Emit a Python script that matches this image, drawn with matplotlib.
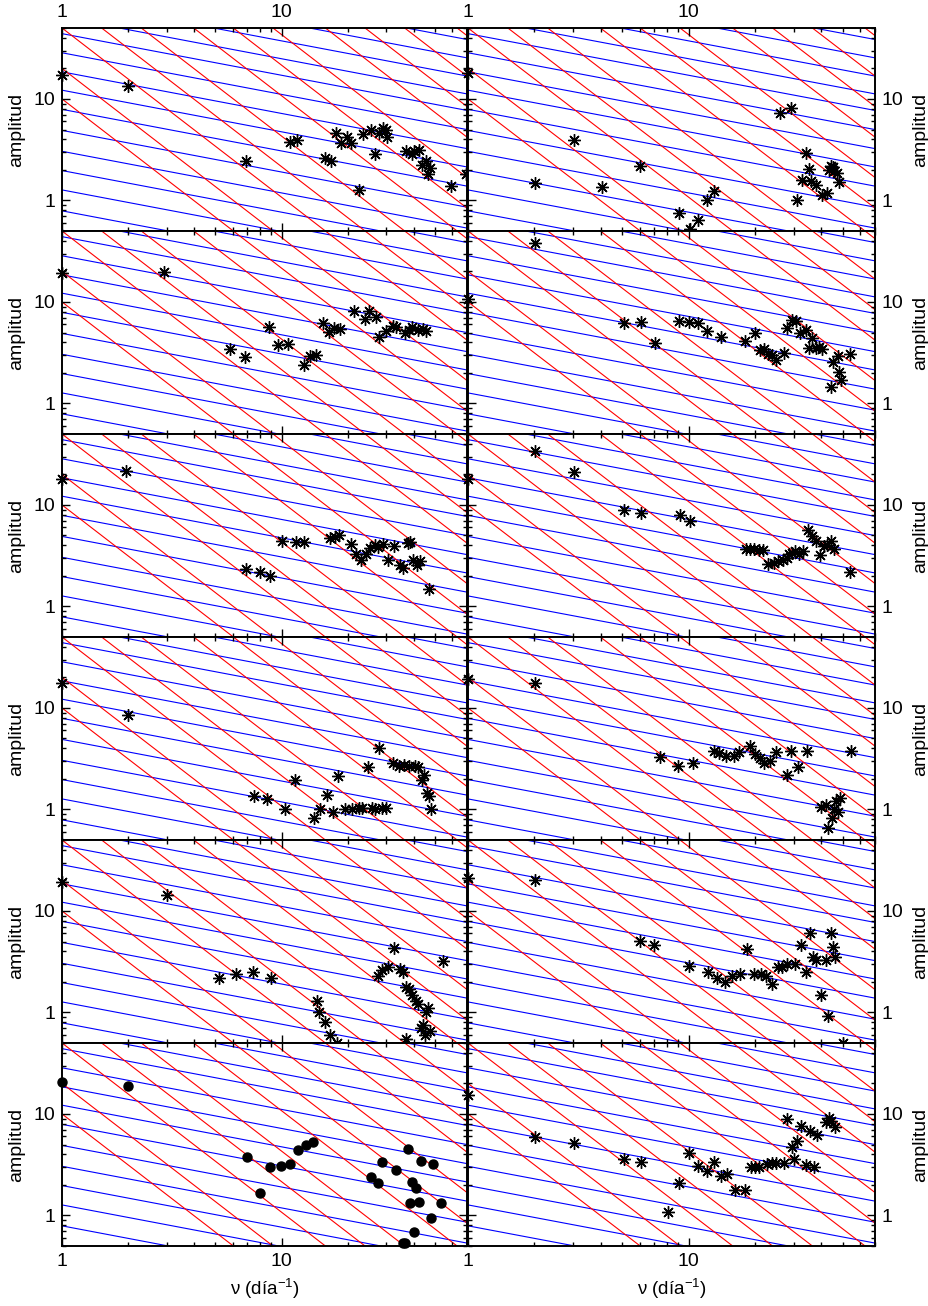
import numpy as np
import matplotlib.pyplot as plt
from matplotlib.ticker import FixedLocator, LogLocator, NullFormatter

plt.rcParams['font.family'] = ['Liberation Sans', 'DejaVu Sans']
plt.rcParams['mathtext.fontset'] = 'custom'
plt.rcParams['mathtext.rm'] = 'Liberation Sans'
plt.rcParams['mathtext.default'] = 'regular'

# -----------------------------
# Guide lines: amplitude = level * nu^(-slope)
# -----------------------------
blue_slope = 0.41
blue_levels = [0.51, 0.79, 1.27, 1.97, 3.05, 4.9, 7.9, 12.2, 18.5, 28.5,
               44, 64, 96, 145, 220]
red_slope = 5.0 / 3.0
red_levels = [10, 20, 50, 100, 200, 500, 1000, 2000, 5000, 10000, 20000, 50000]

# -----------------------------
# Data (nu in 1/day, amplitude)
# -----------------------------
nu_1L = [1.0, 1.99, 6.91, 10.9, 11.8, 15.85, 16.8, 17.8, 19.8, 18.7, 20.7, 22.6,
         23.6, 25.6, 26.8, 27.9, 28.9, 29.9, 30.4, 37.1, 39.3, 40.3, 42.1, 43.6,
         45.5, 47.4, 46.7, 59.0, 69.0]
amp_1L = [17.2, 13.4, 2.47, 3.79, 3.94, 2.6, 2.47, 4.65, 4.25, 3.66, 3.66, 1.27,
          4.47, 4.94, 2.87, 4.59, 5.14, 4.94, 4.25, 3.09, 2.87, 3.09, 3.14, 2.23,
          2.47, 2.07, 1.82, 1.39, 1.82]

nu_1R = [1.0, 2.02, 3.03, 4.04, 6.04, 9.03, 10.1, 11.07, 12.1, 13.1, 26.1, 29.0,
         31.1, 32.8, 34.0, 35.2, 36.0, 38.0, 40.2, 42.2, 43.1, 44.2, 45.0, 45.8,
         46.9, 47.9]
amp_1R = [18.1, 1.48, 3.94, 1.35, 2.18, 0.747, 0.52, 0.64, 1.0, 1.25, 7.2, 8.1,
          1.01, 1.59, 2.95, 2.03, 1.57, 1.42, 1.13, 1.19, 2.0, 2.18, 2.12, 1.96,
          1.85, 1.53]

nu_2L = [1.0, 2.92, 5.8, 6.79, 8.76, 9.69, 10.7, 12.6, 13.5, 14.4, 15.4, 16.5,
         17.4, 18.4, 21.3, 24.1, 25.0, 27.0, 27.9, 29.9, 32.1, 33.4, 36.6, 38.2,
         39.5, 41.7, 43.9, 45.5]
amp_2L = [19.1, 19.6, 3.41, 2.85, 5.62, 3.77, 3.85, 2.39, 2.93, 3.0, 6.17, 5.09,
          5.5, 5.37, 8.2, 6.75, 8.2, 7.16, 4.55, 5.21, 5.8, 5.62, 4.98, 5.3,
          5.62, 5.3, 5.37, 5.21]

nu_2R = [1.0, 2.02, 5.07, 6.06, 7.02, 9.06, 10.07, 11.07, 12.1, 14.1, 18.1, 20.1,
         21.0, 21.9, 23.0, 23.8, 25.0, 27.1, 28.0, 29.3, 30.6, 31.9, 34.0, 35.2,
         36.2, 38.0, 39.1, 40.2, 44.2, 45.0, 47.4, 48.2, 49.1, 54.2]
amp_2R = [10.6, 37.8, 6.17, 6.3, 3.97, 6.46, 6.3, 6.17, 5.21, 4.48, 4.15, 4.9,
          3.36, 3.41, 3.07, 3.0, 2.68, 3.16, 5.5, 6.64, 6.53, 4.9, 5.3, 3.49,
          4.38, 3.49, 3.63, 3.41, 1.46, 2.58, 2.93, 2.06, 1.7, 3.05]

nu_3L = [1.0, 1.95, 6.86, 8.0, 8.9, 10.1, 11.7, 12.6, 16.7, 17.5, 18.3, 20.7,
         21.9, 23.0, 24.2, 25.4, 26.6, 27.6, 28.9, 30.5, 32.5, 34.5, 35.9, 37.5,
         38.5, 39.7, 41.5, 42.8, 47.0]
amp_3L = [18.0, 21.6, 2.34, 2.19, 2.0, 4.41, 4.31, 4.3, 4.7, 4.85, 5.0, 4.1,
          3.3, 2.85, 3.3, 3.75, 4.0, 3.85, 4.1, 2.85, 3.9, 2.55, 2.4, 4.2, 4.3,
          2.9, 2.55, 2.8, 1.5]

nu_3R = [1.0, 2.02, 3.03, 5.07, 6.06, 9.1, 10.1, 18.3, 19.0, 19.8, 20.9, 21.8,
         23.0, 24.5, 25.5, 26.8, 27.8, 28.5, 29.5, 30.5, 31.5, 33.0, 34.9, 36.2,
         37.8, 39.5, 41.0, 42.5, 44.0, 45.5, 53.8]
amp_3R = [18.0, 34.0, 21.0, 8.9, 8.4, 7.96, 6.95, 3.7, 3.7, 3.7, 3.6, 3.6, 2.6,
          2.7, 2.8, 2.9, 3.0, 3.3, 3.4, 3.5, 3.3, 3.5, 5.66, 4.9, 4.4, 3.2, 3.9,
          4.0, 4.4, 3.7, 2.2]

nu_4L = [1.0, 2.0, 7.5, 8.6, 10.4, 11.5, 14.1, 15.0, 16.2, 17.2, 18.0, 19.5,
         21.0, 22.5, 23.3, 24.7, 25.8, 26.8, 27.8, 28.8, 30.0, 32.3, 34.2, 36.0,
         38.0, 40.5, 42.0, 43.5, 44.7, 45.8, 46.8, 48.0]
amp_4L = [17.5, 8.5, 1.35, 1.28, 1.0, 1.95, 0.82, 1.01, 1.38, 0.95, 2.12, 1.0,
          1.02, 1.03, 1.03, 2.6, 1.03, 1.02, 4.0, 1.04, 1.03, 2.9, 2.7, 2.75,
          2.7, 2.7, 2.6, 1.95, 2.2, 1.45, 1.35, 1.0]

nu_4R = [1.0, 2.02, 7.4, 9.0, 10.5, 13.0, 13.8, 14.8, 16.0, 17.0, 19.0, 19.9,
         21.0, 22.0, 23.5, 25.0, 27.8, 29.0, 31.2, 34.5, 40.0, 42.0, 43.0, 44.5,
         45.5, 46.6, 47.5, 48.5, 54.5]
amp_4R = [19.5, 17.5, 3.3, 2.7, 2.9, 3.8, 3.6, 3.4, 3.4, 3.7, 4.2, 3.5, 3.2,
          2.9, 3.0, 3.7, 2.2, 3.8, 2.6, 3.8, 1.05, 1.1, 0.65, 0.82, 1.0, 1.2,
          0.95, 1.3, 3.8]

nu_5L = [1.0, 3.0, 5.2, 6.2, 7.4, 9.0, 14.5, 14.8, 15.8, 16.7, 17.9, 27.5, 28.6,
         30.6, 32.6, 34.5, 35.7, 36.9, 38.2, 39.5, 40.8, 42.0, 43.1, 44.3, 45.3,
         46.5, 47.6, 54.3, 36.9, 45.2]
amp_5L = [19.5, 14.5, 2.2, 2.4, 2.5, 2.2, 1.3, 1.0, 0.8, 0.6, 0.5, 2.3, 2.6,
          2.8, 4.3, 2.7, 2.5, 1.8, 1.7, 1.5, 1.3, 1.2, 0.7, 0.75, 1.0, 1.1, 0.65,
          3.2, 0.55, 0.6]

nu_5R = [1.0, 2.02, 6.0, 7.0, 10.0, 12.3, 13.4, 14.6, 15.7, 17.1, 18.4, 19.8,
         21.3, 22.5, 24.0, 25.3, 26.5, 28.0, 30.5, 32.5, 34.0, 35.5, 36.5, 38.0,
         40.0, 42.0, 43.0, 44.0, 45.0, 46.0, 50.0]
amp_5R = [21.0, 20.0, 5.1, 4.6, 2.9, 2.5, 2.2, 2.0, 2.3, 2.4, 4.2, 2.4, 2.4, 2.3,
          1.9, 2.8, 2.8, 3.0, 3.0, 4.6, 2.5, 6.0, 3.5, 3.3, 1.5, 3.3, 0.93, 6.0,
          4.4, 3.5, 0.5]

nu_6L = [1.0, 2.0, 6.95, 7.94, 8.91, 9.9, 10.9, 11.9, 12.9, 13.9, 25.6, 27.6,
         28.6, 33.4, 35.9, 36.6, 37.5, 38.4, 39.3, 40.3, 41.2, 42.4, 43.1, 48.2,
         49.1, 53.2]
amp_6L = [20.5, 18.8, 3.74, 1.67, 2.98, 3.07, 3.21, 4.42, 4.94, 5.33, 2.41, 2.07,
          3.34, 2.8, 0.53, 0.53, 4.52, 1.32, 2.12, 0.68, 1.85, 1.35, 3.44, 0.95,
          3.21, 1.32]

nu_6R = [1.0, 2.02, 3.03, 5.07, 6.06, 8.08, 9.06, 10.07, 11.07, 12.1, 13.1, 14.1,
         15.0, 16.2, 18.1, 19.1, 19.95, 20.9, 22.7, 23.9, 25.0, 27.1, 28.0, 29.3,
         30.1, 31.1, 32.2, 34.2, 35.4, 37.1, 38.4, 41.9, 43.4, 44.2, 46.3]
amp_6R = [15.4, 5.97, 5.14, 3.57, 3.34, 1.09, 2.07, 4.17, 3.07, 2.76, 3.39, 2.45,
          2.56, 1.78, 1.78, 3.02, 3.02, 3.02, 3.21, 3.26, 3.31, 3.26, 8.85, 4.69,
          3.57, 5.46, 7.6, 3.14, 6.84, 3.02, 6.21, 8.4, 9.07, 8.5, 7.4]

panels = [
    [(nu_1L, amp_1L), (nu_1R, amp_1R)],
    [(nu_2L, amp_2L), (nu_2R, amp_2R)],
    [(nu_3L, amp_3L), (nu_3R, amp_3R)],
    [(nu_4L, amp_4L), (nu_4R, amp_4R)],
    [(nu_5L, amp_5L), (nu_5R, amp_5R)],
    [(nu_6L, amp_6L), (nu_6R, amp_6R)],
]

W, H = 929, 1306
fig = plt.figure(figsize=(W / 100, H / 100), dpi=100)

col_left = [62, 468]
col_width = [405, 407]
row_top = 28
row_h = 203

nu_grid = np.array([0.9, 80.0])

for r in range(6):
    for c in range(2):
        x0 = col_left[c] / W
        y0 = 1 - (row_top + (r + 1) * row_h) / H
        ax = fig.add_axes([x0, y0, col_width[c] / W, row_h / H])
        ax.set_xscale('log')
        ax.set_yscale('log')

        for lv in blue_levels:
            ax.plot(nu_grid, lv * nu_grid ** (-blue_slope), color='#0000ff', lw=0.8, zorder=1)
        for lv in red_levels:
            ax.plot(nu_grid, lv * nu_grid ** (-red_slope), color='#ff0000', lw=0.8, zorder=1)

        nu, amp = panels[r][c]
        if r == 5 and c == 0:
            ax.plot(nu, amp, 'o', color='black', ms=6.5, clip_on=False, zorder=5)
        else:
            ax.plot(nu, amp, ls='none', marker=(8, 2, 0), color='black', ms=9,
                    mew=1.0, clip_on=False, zorder=5)

        ax.set_xlim(1, 70)
        ax.set_ylim(0.5, 50)

        for axis in (ax.xaxis, ax.yaxis):
            axis.set_major_locator(FixedLocator([1, 10]))
            axis.set_minor_locator(LogLocator(base=10, subs=np.arange(2, 10)))
            axis.set_minor_formatter(NullFormatter())
        ax.set_xticklabels(['1', '10'])
        ax.set_yticklabels(['1', '10'])

        ax.tick_params(which='both', direction='in', top=True, bottom=True,
                       left=True, right=True, labelsize=14, width=1.0)
        ax.tick_params(which='major', length=6, pad=5)
        ax.tick_params(which='minor', length=3)
        ax.tick_params(labeltop=(r == 0), labelbottom=(r == 5),
                       labelleft=(c == 0), labelright=(c == 1))
        for sp in ax.spines.values():
            sp.set_linewidth(1.4)
            sp.set_zorder(6)

        ax.set_ylabel('amplitud', fontsize=14, labelpad=6)
        if c == 1:
            ax.yaxis.set_label_position('right')

for c in range(2):
    cx = (col_left[c] + col_width[c] / 2) / W
    fig.text(cx, 1 - 1289 / H, 'ν (día$^{-1}$)', ha='center', va='center', fontsize=13.5)

fig.savefig('out.png', dpi=100)
